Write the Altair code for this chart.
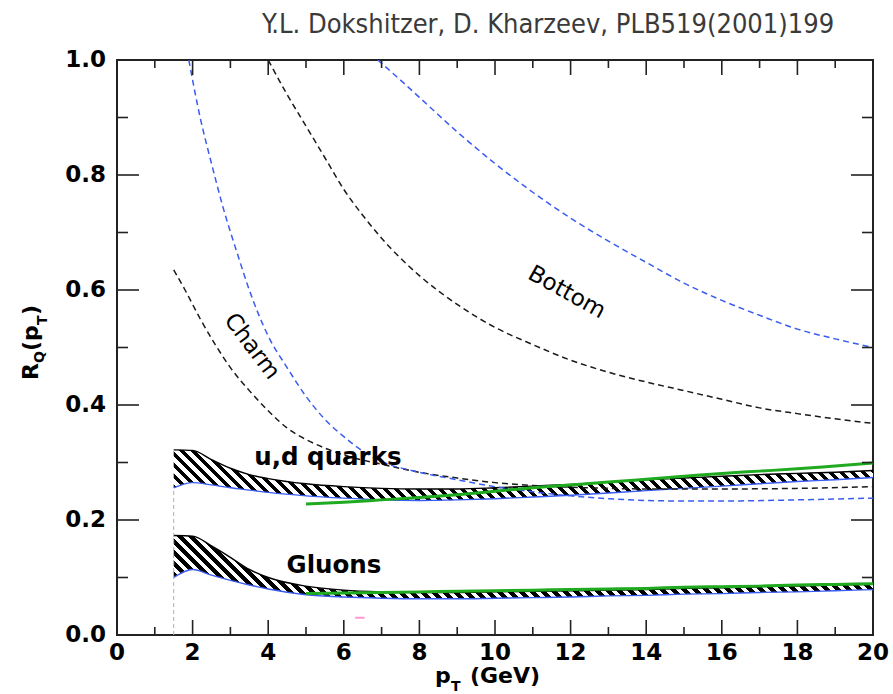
import altair as alt
import pandas as pd

# ---------------- data ----------------
# common pT grid for the two hatched bands
band_pt = [1.5, 2.0, 2.5, 3.0, 3.5, 4.0, 5.0, 6.0, 7.0, 8.0, 9.0, 10.0,
           11.0, 12.0, 13.0, 14.0, 15.0, 16.0, 17.0, 18.0, 19.0, 20.0]
ud_hi = [0.322, 0.321, 0.305, 0.290, 0.279, 0.272, 0.263, 0.258, 0.255, 0.254, 0.254,
         0.256, 0.259, 0.262, 0.266, 0.270, 0.273, 0.276, 0.279, 0.281, 0.283, 0.286]
ud_lo = [0.256, 0.265, 0.261, 0.256, 0.252, 0.248, 0.242, 0.238, 0.235, 0.234, 0.235,
         0.237, 0.240, 0.243, 0.247, 0.251, 0.255, 0.259, 0.263, 0.267, 0.270, 0.274]
gl_hi = [0.173, 0.172, 0.155, 0.135, 0.114, 0.100, 0.085, 0.078, 0.075, 0.074, 0.074,
         0.075, 0.076, 0.077, 0.078, 0.079, 0.081, 0.082, 0.084, 0.085, 0.087, 0.088]
gl_lo = [0.100, 0.114, 0.104, 0.095, 0.087, 0.080, 0.070, 0.066, 0.064, 0.063, 0.063,
         0.064, 0.065, 0.066, 0.068, 0.069, 0.071, 0.072, 0.074, 0.075, 0.077, 0.079]

# green curves (pT >= 5 GeV)
green_pt = [5, 6, 7, 8, 9, 10, 11, 12, 13, 14, 15, 16, 17, 18, 19, 20]
ud_green = [0.228, 0.231, 0.235, 0.239, 0.244, 0.250, 0.256, 0.261, 0.266, 0.271,
            0.276, 0.281, 0.285, 0.289, 0.294, 0.299]
gl_green = [0.072, 0.073, 0.074, 0.075, 0.076, 0.077, 0.078, 0.079, 0.080, 0.081,
            0.083, 0.084, 0.085, 0.087, 0.088, 0.089]

# heavy-quark dashed curves
charm_k_pt = [1.5, 1.8, 2.2, 2.6, 3.0, 3.5, 4.0, 4.5, 5.0, 5.5, 6.0, 7.0, 8.0, 9.0,
              10.0, 11.0, 12.0, 13.0, 14.0, 16.0, 18.0, 20.0]
charm_k = [0.635, 0.600, 0.550, 0.505, 0.465, 0.425, 0.390, 0.360, 0.340, 0.325, 0.313,
           0.297, 0.283, 0.273, 0.265, 0.260, 0.257, 0.255, 0.254, 0.254, 0.255, 0.258]
charm_b_pt = [1.9, 2.2, 2.5, 2.8, 3.2, 3.5, 4.0, 4.5, 5.0, 5.5, 6.0, 6.5, 7.0, 8.0,
              9.0, 10.0, 11.0, 12.0, 13.0, 14.0, 15.0, 16.0, 18.0, 20.0]
charm_b = [1.000, 0.900, 0.820, 0.745, 0.660, 0.600, 0.520, 0.465, 0.415, 0.375, 0.345,
           0.320, 0.302, 0.283, 0.270, 0.258, 0.249, 0.242, 0.237, 0.234, 0.233, 0.233,
           0.235, 0.238]
bottom_k_pt = [4.0, 4.5, 5.0, 5.5, 6.0, 6.5, 7.0, 8.0, 9.0, 10.0, 11.0, 12.0, 13.0,
               14.0, 15.0, 16.0, 17.0, 18.0, 19.0, 20.0]
bottom_k = [1.000, 0.940, 0.885, 0.830, 0.775, 0.730, 0.690, 0.625, 0.575, 0.535, 0.505,
            0.478, 0.457, 0.440, 0.425, 0.410, 0.395, 0.385, 0.376, 0.368]
bottom_b_pt = [6.9, 7.5, 8.0, 9.0, 10.0, 11.0, 12.0, 13.0, 14.0, 15.0, 16.0, 17.0,
               18.0, 19.0, 20.0]
bottom_b = [1.000, 0.965, 0.935, 0.875, 0.820, 0.770, 0.725, 0.685, 0.648, 0.612,
            0.582, 0.556, 0.532, 0.515, 0.500]

# axis ticks and their labels
x_major = [0, 2, 4, 6, 8, 10, 12, 14, 16, 18, 20]
x_minor = [1, 3, 5, 7, 9, 11, 13, 15, 17, 19]
y_major = [0.0, 0.2, 0.4, 0.6, 0.8, 1.0]
y_minor = [0.1, 0.3, 0.5, 0.7, 0.9]
x_tick_labels = ["0", "2", "4", "6", "8", "10", "12", "14", "16", "18", "20"]
y_tick_labels = ["0.0", "0.2", "0.4", "0.6", "0.8", "1.0"]

# curve labels
lbl_bold_text = ["u,d quarks", "Gluons"]
lbl_bold_x = [5.58, 5.74]
lbl_bold_y = [0.295, 0.107]
lbl_rot_text = ["Charm", "Bottom"]
lbl_rot_x = [3.57, 11.9]
lbl_rot_y = [0.502, 0.596]
lbl_rot_angle = [53, 29]

# start of the calculation (pT = 1.5 GeV) and a stray marker
cut_pt = [1.5]
cut_top = [0.256]
stray_pt = [6.3]
stray_pt2 = [6.55]
stray_y = [0.03]

title_text = "Y.L. Dokshitzer, D. Kharzeev, PLB519(2001)199"

# ---------------- layout ----------------
W, H = 756, 575
XMAX, YMAX = 20.0, 1.0
BOLD = "DejaVu Sans"
BLUE = "#3a5cf0"
GREEN = "#1faa1f"

xs = alt.Scale(domain=[0, XMAX], nice=False, zero=False)
ys = alt.Scale(domain=[0, YMAX], nice=False, zero=False)


def hatch(pts, hi, lo, period=11.0, slope=1.0):
    """Diagonal black/white stripes as a hard-stop linear gradient over the band's box."""
    wpx = (max(pts) - min(pts)) * W / XMAX
    hpx = (max(hi) - min(lo)) * H / YMAX
    ext = 1.1
    b = -hpx / (slope * wpx)
    dt = period / (wpx * ext * (1 + b * b))
    stops = []
    k = 0
    while k * dt < 1.0:
        t0 = k * dt
        t1 = min(t0 + dt / 2, 1.0)
        t2 = min(t0 + dt, 1.0)
        stops += [alt.GradientStop(offset=t0, color="black"),
                  alt.GradientStop(offset=t1, color="black"),
                  alt.GradientStop(offset=t1, color="white"),
                  alt.GradientStop(offset=t2, color="white")]
        k += 1
    return alt.Gradient(gradient="linear", stops=stops,
                        x1=0, y1=1, x2=ext, y2=1 + ext * b)


def band_layer(hi, lo):
    df = pd.DataFrame({"pt": band_pt, "hi": hi, "lo": lo})
    area = alt.Chart(df).mark_area(fill=hatch(band_pt, hi, lo), interpolate="monotone").encode(
        x=alt.X("pt:Q", scale=xs, axis=None),
        y=alt.Y("hi:Q", scale=ys, axis=None),
        y2="lo:Q",
    )
    top = alt.Chart(df).mark_line(color="black", strokeWidth=1.4, interpolate="monotone").encode(
        x=alt.X("pt:Q", scale=xs, axis=None), y=alt.Y("hi:Q", scale=ys, axis=None))
    bot = alt.Chart(df).mark_line(color=BLUE, strokeWidth=1.4, interpolate="monotone").encode(
        x=alt.X("pt:Q", scale=xs, axis=None), y=alt.Y("lo:Q", scale=ys, axis=None))
    return [area, top, bot]


def curve(pts, vals, color, dash=None, width=1.5):
    df = pd.DataFrame({"pt": pts, "r": vals})
    kw = dict(color=color, strokeWidth=width, interpolate="monotone", clip=True)
    if dash:
        kw["strokeDash"] = dash
    return alt.Chart(df).mark_line(**kw).encode(
        x=alt.X("pt:Q", scale=xs, axis=None), y=alt.Y("r:Q", scale=ys, axis=None))


def xticks(vals, length):
    df = pd.DataFrame({"pt": vals})
    bot = alt.Chart(df).mark_rule(color="#222", strokeWidth=1.6).encode(
        x=alt.X("pt:Q", scale=xs, axis=None), y=alt.value(H), y2=alt.value(H - length))
    top = alt.Chart(df).mark_rule(color="#222", strokeWidth=1.6).encode(
        x=alt.X("pt:Q", scale=xs, axis=None), y=alt.value(0), y2=alt.value(length))
    return [bot, top]


def yticks(vals, length):
    df = pd.DataFrame({"r": vals})
    left = alt.Chart(df).mark_rule(color="#222", strokeWidth=1.6).encode(
        y=alt.Y("r:Q", scale=ys, axis=None), x=alt.value(0), x2=alt.value(length))
    right = alt.Chart(df).mark_rule(color="#222", strokeWidth=1.6).encode(
        y=alt.Y("r:Q", scale=ys, axis=None), x=alt.value(W), x2=alt.value(W - length))
    return [left, right]


# tick labels, bold, placed through the scales
x_labels = alt.Chart(pd.DataFrame({"pt": x_major, "t": x_tick_labels})).mark_text(
    font=BOLD, fontWeight="bold", fontSize=23, color="black", align="center",
    baseline="alphabetic").encode(
    x=alt.X("pt:Q", scale=xs, axis=None), y=alt.value(H + 25), text="t:N")
y_labels = alt.Chart(pd.DataFrame({"r": y_major, "t": y_tick_labels})).mark_text(
    font=BOLD, fontWeight="bold", fontSize=23, color="black", align="right",
    baseline="middle").encode(
    y=alt.Y("r:Q", scale=ys, axis=None), x=alt.value(-11), text="t:N")

cut = alt.Chart(pd.DataFrame({"pt": cut_pt, "lo": [0.0], "hi": cut_top})).mark_rule(
    color="#b0b0b0", strokeWidth=1, strokeDash=[4, 3]).encode(
    x=alt.X("pt:Q", scale=xs, axis=None), y=alt.Y("lo:Q", scale=ys, axis=None), y2="hi:Q")

stray = alt.Chart(pd.DataFrame({"a": stray_pt, "b": stray_pt2, "r": stray_y})).mark_rule(
    color="#ff9ad0", strokeWidth=2).encode(
    x=alt.X("a:Q", scale=xs, axis=None), x2="b:Q", y=alt.Y("r:Q", scale=ys, axis=None))

bold_labels = alt.Chart(pd.DataFrame({"pt": lbl_bold_x, "r": lbl_bold_y, "t": lbl_bold_text})).mark_text(
    font=BOLD, fontWeight="bold", fontSize=24.5, color="black", align="center", baseline="alphabetic").encode(
    x=alt.X("pt:Q", scale=xs, axis=None), y=alt.Y("r:Q", scale=ys, axis=None), text="t:N")

rot_labels = alt.Chart(pd.DataFrame({"pt": lbl_rot_x, "r": lbl_rot_y, "t": lbl_rot_text,
                                     "a": lbl_rot_angle})).mark_text(
    font=BOLD, fontSize=23, color="black", align="center", baseline="middle").encode(
    x=alt.X("pt:Q", scale=xs, axis=None), y=alt.Y("r:Q", scale=ys, axis=None), text="t:N",
    angle=alt.Angle("a:Q", scale=None))


def txt(s, x, y, size, angle=0, weight="bold", color="black", font=BOLD, align="left"):
    kw = dict(text=s, font=font, fontSize=size, fontWeight=weight, color=color,
              align=align, baseline="alphabetic")
    if angle:
        kw["angle"] = angle
    return alt.Chart(pd.DataFrame({"k": [0]})).mark_text(**kw).encode(
        x=alt.value(x), y=alt.value(y))


# y-axis title R_Q(p_T), rotated, built from pieces for the subscripts
ytitle = [
    txt("R", -79, 320, 22, angle=270),
    txt("Q", -73, 303, 14, angle=270),
    txt("(p", -79, 291, 22, angle=270),
    txt("T", -70, 265, 14, angle=270),
    txt(")", -79, 255, 22, angle=270),
]
# x-axis title p_T (GeV)
xtitle = [
    txt("p", 318, 623, 22),
    txt("T", 334, 631, 14),
    txt("(GeV)", 353, 623, 22),
]
title = txt(title_text, 431, -27, 27, weight="normal", color="#3a3a3a",
            font="Liberation Sans Narrow, DejaVu Sans Condensed, Liberation Sans",
            align="center")

layers = []
layers += band_layer(ud_hi, ud_lo)
layers += band_layer(gl_hi, gl_lo)
layers += [cut, stray]
layers += [
    curve(charm_k_pt, charm_k, "#1a1a1a", dash=[6, 4]),
    curve(charm_b_pt, charm_b, BLUE, dash=[6, 4]),
    curve(bottom_k_pt, bottom_k, "#1a1a1a", dash=[6, 4]),
    curve(bottom_b_pt, bottom_b, BLUE, dash=[6, 4]),
    curve(green_pt, ud_green, GREEN, width=3),
    curve(green_pt, gl_green, GREEN, width=3),
]
layers += xticks(x_major, 15) + xticks(x_minor, 8)
layers += yticks(y_major, 22) + yticks(y_minor, 11)
layers += [x_labels, y_labels]
layers += [bold_labels, rot_labels, title] + ytitle + xtitle

chart = alt.layer(*layers).properties(
    width=W, height=H,
    autosize=alt.AutoSizeParams(type="none"),
    padding={"left": 117, "top": 60, "right": 20, "bottom": 59},
).configure_view(stroke="#222", strokeWidth=2)

chart.save("out.html", embed_options={"renderer": "svg", "actions": False})
